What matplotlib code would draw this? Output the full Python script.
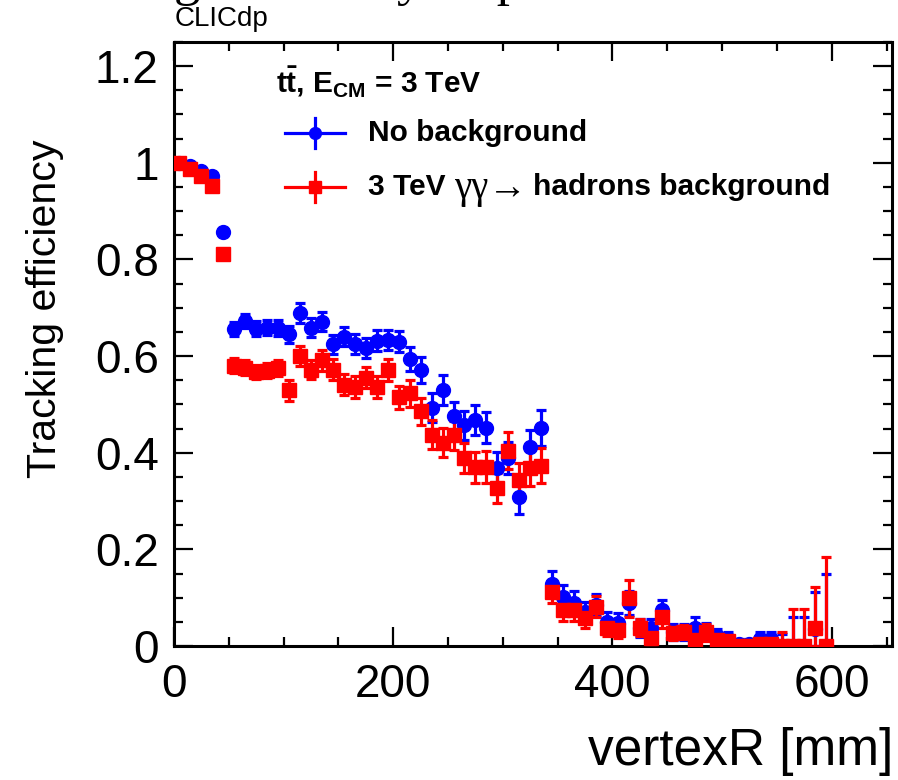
import matplotlib
matplotlib.use("Agg")
import matplotlib.pyplot as plt
import numpy as np
from matplotlib.ticker import MultipleLocator, FixedLocator

# ---------------- data ----------------
bin_centres = list(range(5, 600, 10))  # vertexR bin centres [mm]

eff_nobkg = [1.000, 0.994, 0.984, 0.973, 0.857, 0.656, 0.673, 0.657, 0.659, 0.658,
             0.645, 0.689, 0.659, 0.671, 0.624, 0.640, 0.625, 0.617, 0.632, 0.634,
             0.630, 0.594, 0.571, 0.493, 0.529, 0.477, 0.457, 0.467, 0.452, 0.368,
             0.389, 0.308, 0.412, 0.451, 0.128, 0.101, 0.089, 0.070, 0.085, 0.050,
             0.048, 0.089, 0.037, 0.037, 0.074, 0.029, 0.029, 0.038, 0.030, 0.020,
             0.015, 0.004, 0.004, 0.015, 0.015, 0.000, 0.000, 0.000, 0.035, 0.000]
err_nobkg = [0.002, 0.003, 0.004, 0.005, 0.008, 0.015, 0.015, 0.015, 0.016, 0.016,
             0.017, 0.020, 0.019, 0.020, 0.020, 0.020, 0.021, 0.021, 0.021, 0.021,
             0.022, 0.025, 0.027, 0.030, 0.031, 0.029, 0.030, 0.031, 0.032, 0.033,
             0.034, 0.035, 0.036, 0.038, 0.027, 0.025, 0.024, 0.022, 0.022, 0.020,
             0.020, 0.024, 0.018, 0.018, 0.022, 0.016, 0.016, 0.023, 0.017, 0.015,
             0.013, 0.010, 0.010, 0.015, 0.015, 0.025, 0.060, 0.060, 0.077, 0.150]

eff_bkg = [0.999, 0.988, 0.972, 0.953, 0.811, 0.580, 0.576, 0.567, 0.570, 0.575,
           0.529, 0.600, 0.572, 0.591, 0.572, 0.541, 0.536, 0.555, 0.536, 0.571,
           0.515, 0.523, 0.486, 0.437, 0.421, 0.436, 0.390, 0.370, 0.371, 0.327,
           0.404, 0.343, 0.368, 0.373, 0.112, 0.074, 0.074, 0.057, 0.081, 0.038,
           0.033, 0.099, 0.038, 0.017, 0.060, 0.027, 0.029, 0.012, 0.028, 0.012,
           0.010, 0.000, 0.000, 0.005, 0.005, 0.000, 0.000, 0.000, 0.037, 0.000]
err_bkg = [0.002, 0.003, 0.004, 0.005, 0.009, 0.015, 0.015, 0.015, 0.016, 0.016,
           0.021, 0.020, 0.020, 0.021, 0.021, 0.021, 0.022, 0.022, 0.022, 0.022,
           0.024, 0.028, 0.028, 0.030, 0.030, 0.030, 0.031, 0.032, 0.033, 0.031,
           0.038, 0.036, 0.036, 0.036, 0.024, 0.022, 0.022, 0.020, 0.022, 0.017,
           0.017, 0.038, 0.018, 0.012, 0.022, 0.014, 0.014, 0.012, 0.018, 0.012,
           0.010, 0.010, 0.010, 0.010, 0.010, 0.030, 0.077, 0.077, 0.085, 0.184]

xlim = (0, 655)
ylim = (0, 1.25)
xticks = [0, 200, 400, 600]
xtick_labels = ["0", "200", "400", "600"]
yticks = [0, 0.2, 0.4, 0.6, 0.8, 1.0, 1.2]
ytick_labels = ["0", "0.2", "0.4", "0.6", "0.8", "1", "1.2"]

label_nobkg = "No background"
label_bkg_parts = ["3 TeV", "γγ→", "hadrons background"]
header = r"$\mathbf{t\bar{t}}$, E$_{\mathbf{CM}}$ = 3 TeV"

# ---------------- style ----------------
plt.rcParams["font.family"] = ["Liberation Sans", "DejaVu Sans"]
plt.rcParams["mathtext.fontset"] = "custom"
plt.rcParams["mathtext.rm"] = "Liberation Sans"
plt.rcParams["mathtext.bf"] = "Liberation Sans:bold"
plt.rcParams["mathtext.it"] = "Liberation Sans:italic"

W, H = 898, 780
fig = plt.figure(figsize=(W / 100, H / 100), dpi=100)
ax = fig.add_axes([174 / W, (H - 646) / H, 718 / W, 604 / H])

x = np.array(bin_centres, dtype=float)

def draw(vals, errs, color, marker, ms):
    v = np.array(vals)
    e = np.array(errs)
    lo = np.minimum(e, v)
    hi = np.minimum(e, 1.0 - v)
    ax.errorbar(x, v, yerr=[lo, hi], fmt=marker, color=color, ms=ms,
                mec=color, mfc=color, elinewidth=2.3, capsize=3.8, capthick=2.3,
                ecolor=color, zorder=3, clip_on=True)

draw(eff_nobkg, err_nobkg, "#0000ff", "o", 10.0)
draw(eff_bkg, err_bkg, "#ff0000", "s", 9.8)

ax.set_xlim(*xlim)
ax.set_ylim(*ylim)
ax.xaxis.set_major_locator(FixedLocator(xticks))
ax.set_xticklabels(xtick_labels)
ax.xaxis.set_minor_locator(MultipleLocator(50))
ax.yaxis.set_major_locator(FixedLocator(yticks))
ax.set_yticklabels(ytick_labels)
ax.yaxis.set_minor_locator(MultipleLocator(0.05))

for sp in ax.spines.values():
    sp.set_linewidth(2.2)
ax.tick_params(which="both", direction="in", top=True, right=True, width=1.6,
               labelsize=33, colors="black")
ax.tick_params(which="major", length=13.7)
ax.tick_params(which="minor", length=6.8)
ax.tick_params(axis="x", which="major", pad=12)
ax.tick_params(axis="y", which="major", pad=11)

# axis titles
fig.text(893 / W, 1 - 765 / H, "vertexR [mm]", ha="right", va="baseline", fontsize=37)
fig.text(45 / W, 1 - 309 / H, "Tracking efficiency", rotation=90, ha="center",
         va="center", fontsize=29.6)

# clipped title at the very top and CLICdp label
fig.text(12 / W, 1 + 5.5 / H, "Tracking efficiency vs production vertex",
         family="Liberation Serif", fontsize=38, va="baseline", ha="left")
fig.text(175 / W, 1 - 26 / H, "CLICdp", fontsize=20, va="baseline", ha="left")

# legend (ROOT style, no frame)
def fx(px):
    return (px - 174) / 718

def fy(py):
    return (646 - py) / 604

ax.text(fx(276), fy(93), header, transform=ax.transAxes, fontsize=21.5,
        fontweight="bold", va="baseline", ha="left")
for py, col, mk, ms in [(133, "#0000ff", "o", 10.0), (187, "#ff0000", "s", 9.8)]:
    ax.plot([fx(285), fx(345)], [fy(py), fy(py)], color=col, lw=2.3,
            transform=ax.transAxes, clip_on=False)
    ax.plot([fx(315), fx(315)], [fy(py - 15), fy(py + 15)], color=col, lw=2.3,
            transform=ax.transAxes, clip_on=False)
    ax.plot([fx(315)], [fy(py)], marker=mk, color=col, ms=ms * 0.85,
            transform=ax.transAxes, clip_on=False)

ax.text(fx(368), fy(133), label_nobkg, transform=ax.transAxes, fontsize=21.5,
        fontweight="bold", va="center", ha="left")
ax.text(fx(368), fy(187), label_bkg_parts[0], transform=ax.transAxes, fontsize=21.5,
        fontweight="bold", va="center", ha="left")
ax.text(fx(454), fy(198), label_bkg_parts[1], transform=ax.transAxes, fontsize=28,
        family=["Liberation Serif", "DejaVu Serif"], va="baseline", ha="left")
ax.text(fx(533), fy(187), label_bkg_parts[2], transform=ax.transAxes, fontsize=21.5,
        fontweight="bold", va="center", ha="left")

fig.savefig("out.png", dpi=100)
